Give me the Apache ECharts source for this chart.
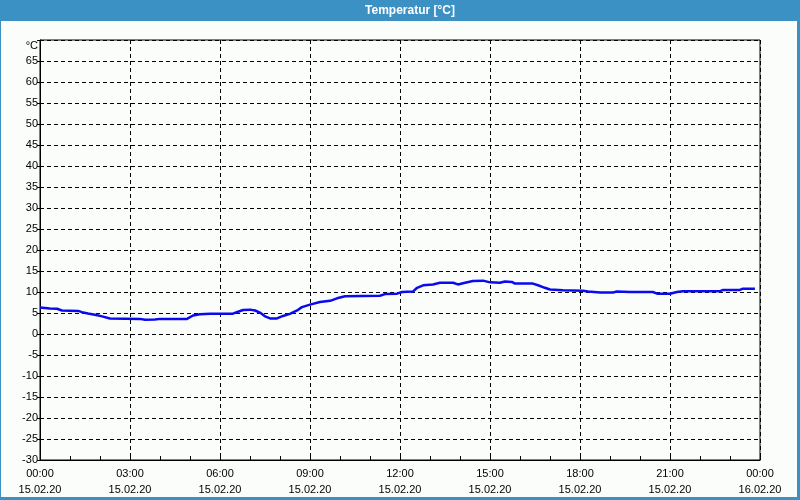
<!DOCTYPE html>
<html>
<head>
<meta charset="utf-8">
<script src="https://cdn.jsdelivr.net/npm/echarts@6/dist/echarts.min.js"></script>
<style>
html,body{margin:0;padding:0;background:#fbfdfb;}
#c{width:800px;height:500px;}
</style>
</head>
<body>
<div id="c"></div>
<script>
// time in hours since 15.02.20 00:00
const hours = [0, 0.33, 0.57, 0.73, 1.27, 1.4, 1.6, 1.83, 2.07, 2.33, 3.33, 3.5, 3.83, 4.0, 4.9, 5.1, 5.33, 5.67, 6.43, 6.6, 6.77, 7.0, 7.17, 7.33, 7.5, 7.67, 7.9, 8.1, 8.33, 8.57, 8.73, 9.0, 9.33, 9.67, 9.9, 10.17, 11.33, 11.5, 11.9, 12.07, 12.43, 12.57, 12.77, 13.1, 13.33, 13.77, 13.93, 14.17, 14.43, 14.77, 15.0, 15.33, 15.5, 15.73, 15.83, 16.43, 16.6, 16.83, 17.0, 17.43, 18.1, 18.27, 18.67, 19.1, 19.23, 19.67, 20.43, 20.57, 21.0, 21.23, 21.43, 22.67, 22.77, 23.33, 23.43, 23.83];
const temps = [6.3, 6.1, 6.0, 5.6, 5.5, 5.2, 4.9, 4.6, 4.2, 3.7, 3.6, 3.4, 3.45, 3.6, 3.6, 4.4, 4.7, 4.8, 4.85, 5.3, 5.7, 5.8, 5.6, 5.1, 4.2, 3.7, 3.7, 4.3, 4.8, 5.6, 6.4, 7.0, 7.6, 7.9, 8.5, 9.0, 9.1, 9.5, 9.6, 10.0, 10.1, 11.0, 11.6, 11.8, 12.2, 12.2, 11.8, 12.2, 12.6, 12.7, 12.3, 12.2, 12.5, 12.4, 12.0, 12.0, 11.6, 11.0, 10.6, 10.4, 10.3, 10.1, 9.9, 9.9, 10.1, 10.0, 10.0, 9.6, 9.6, 10.0, 10.2, 10.2, 10.5, 10.5, 10.8, 10.8];
const timeLabels = ['00:00\n15.02.20', '03:00\n15.02.20', '06:00\n15.02.20', '09:00\n15.02.20', '12:00\n15.02.20', '15:00\n15.02.20', '18:00\n15.02.20', '21:00\n15.02.20', '00:00\n16.02.20'];
const titleText = 'Temperatur [°C]';
const unitLabel = '°C';

const chart = echarts.init(document.getElementById('c'), null, {renderer: 'canvas'});
const font = 'Liberation Sans';
chart.setOption({
  animation: false,
  backgroundColor: '#fbfdfb',
  graphic: [
    {type: 'rect', left: 0, top: 0, shape: {width: 800, height: 21}, style: {fill: '#3c91c4'}, z: 0},
    {type: 'rect', left: 0, top: 0, shape: {width: 1, height: 500}, style: {fill: '#3c91c4'}},
    {type: 'rect', left: 797, top: 0, shape: {width: 3, height: 500}, style: {fill: '#3c91c4'}},
    {type: 'rect', left: 0, top: 497, shape: {width: 800, height: 3}, style: {fill: '#3c91c4'}},
    {type: 'text', x: 410, y: 11, style: {text: titleText, fill: '#ffffff', font: 'bold 12px "Liberation Sans"', align: 'center', verticalAlign: 'middle'}}
  ],
  grid: {left: 40, right: 40, top: 40, bottom: 40, show: true, borderColor: '#000', borderWidth: 1, backgroundColor: 'transparent'},
  xAxis: {
    type: 'value', min: 0, max: 24, interval: 3,
    axisLine: {show: true, onZero: false, lineStyle: {color: '#000', width: 1}},
    axisTick: {show: true, inside: true, length: 4, lineStyle: {color: '#000'}},
    minorTick: {show: true, splitNumber: 3, length: 4, lineStyle: {color: '#000'}},
    splitLine: {show: true, lineStyle: {color: '#000', type: [4, 3], width: 1}},
    axisLabel: {
      color: '#000', fontFamily: font, fontSize: 11, lineHeight: 16, margin: 6,
      formatter: v => timeLabels[Math.round(v / 3)]
    }
  },
  yAxis: {
    type: 'value', min: -30, max: 70, interval: 5,
    axisLine: {show: true, onZero: false, lineStyle: {color: '#000', width: 1}},
    axisTick: {show: true, inside: false, length: 3, lineStyle: {color: '#000'}},
    splitLine: {show: true, lineStyle: {color: '#000', type: [4, 3], width: 1}},
    axisLabel: {
      color: '#000', fontFamily: font, fontSize: 11, margin: 2,
      formatter: v => v === 70 ? '{u|' + unitLabel + '}' : String(v),
      rich: {u: {fontFamily: font, fontSize: 11, color: '#000', padding: [12, 0, 0, 0]}}
    }
  },
  series: [{
    type: 'line',
    data: hours.map((h, i) => [h, temps[i]]),
    showSymbol: false,
    lineStyle: {color: '#0a0af0', width: 2.5},
    itemStyle: {color: '#0a0af0'},
    z: 5
  }]
});
</script>
</body>
</html>
